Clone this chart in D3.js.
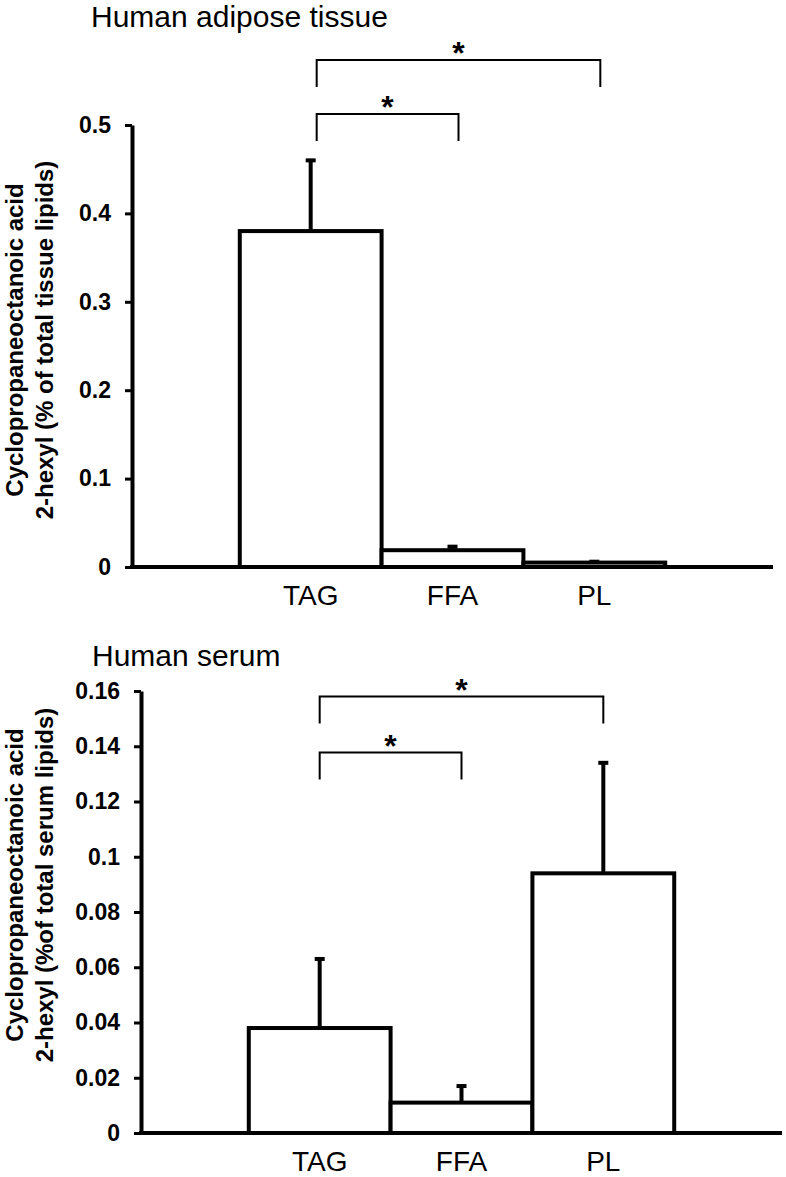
<!DOCTYPE html>
<html>
<head>
<meta charset="utf-8">
<script src="https://cdn.jsdelivr.net/npm/d3@7"></script>
<style>
  body { margin: 0; background: #fff; }
  svg { display: block; font-family: "Liberation Sans", Arial, sans-serif; }
</style>
</head>
<body>
<svg id="svg" width="786" height="1177"></svg>
<script>
// categories on the x axis (same for both panels)
const categories = ["TAG", "FFA", "PL"];

// adipose tissue: means and SD (upper error only)
const tissueMeans = [0.38, 0.019, 0.005];
const tissueErrors = [0.08, 0.004, 0.001];
const tissueTicks = [0, 0.1, 0.2, 0.3, 0.4, 0.5];
const tissueTickLabels = ["0", "0.1", "0.2", "0.3", "0.4", "0.5"];

// serum: means and SD
const serumMeans = [0.038, 0.011, 0.094];
const serumErrors = [0.025, 0.006, 0.040];
const serumTicks = [0, 0.02, 0.04, 0.06, 0.08, 0.1, 0.12, 0.14, 0.16];
const serumTickLabels = ["0", "0.02", "0.04", "0.06", "0.08", "0.1", "0.12", "0.14", "0.16"];

// significance brackets: [from, to, level in data units]
const tissueBrackets = [["TAG", "FFA", 0.5125], ["TAG", "PL", 0.5735]];
const serumBrackets = [["TAG", "FFA", 0.1377], ["TAG", "PL", 0.1580]];

const svg = d3.select("#svg");

function drawPanel(p) {
  const g = svg.append("g");

  const x = d3.scaleBand()
    .domain(categories)
    .range([p.left, p.right])
    .paddingInner(0)
    .paddingOuter(0.76);

  const y = d3.scaleLinear()
    .domain([0, p.max])
    .range([p.bottom, p.top]);

  const data = categories.map((c, i) => ({ cat: c, mean: p.means[i], err: p.errors[i] }));

  // title
  g.append("text")
    .attr("x", p.titleX)
    .attr("y", p.titleY)
    .attr("font-size", 30)
    .text(p.title);

  // axis title (two lines, rotated)
  p.yTitle.forEach((line, i) => {
    g.append("text")
      .attr("transform", "translate(" + (23 + i * 30) + "," + p.yTitleCenter + ") rotate(-90)")
      .attr("text-anchor", "middle")
      .attr("font-size", 24)
      .attr("font-weight", "bold")
      .text(line);
  });

  // error bars (drawn first so the bar outline covers the bottom)
  const eb = g.selectAll(".err")
    .data(data)
    .enter()
    .append("g");

  eb.append("line")
    .attr("x1", d => x(d.cat) + x.bandwidth() / 2)
    .attr("x2", d => x(d.cat) + x.bandwidth() / 2)
    .attr("y1", d => y(d.mean))
    .attr("y2", d => y(d.mean + d.err))
    .attr("stroke", "#000")
    .attr("stroke-width", 4);

  eb.append("rect")
    .attr("x", d => x(d.cat) + x.bandwidth() / 2 - 5)
    .attr("y", d => y(d.mean + d.err) - 2)
    .attr("width", 10)
    .attr("height", 4)
    .attr("fill", "#000");

  // bars
  g.selectAll(".bar")
    .data(data)
    .enter()
    .append("rect")
    .attr("x", d => x(d.cat))
    .attr("y", d => y(d.mean))
    .attr("width", x.bandwidth())
    .attr("height", d => y(0) - y(d.mean))
    .attr("fill", "#fff")
    .attr("stroke", "#000")
    .attr("stroke-width", 4);

  // y axis
  const yAxis = g.append("g")
    .attr("transform", "translate(" + p.left + ",0)")
    .call(d3.axisLeft(y)
      .tickValues(p.ticks)
      .tickFormat((d, i) => p.tickLabels[i])
      .tickSize(7)
      .tickSizeOuter(0)
      .tickPadding(14));
  yAxis.select(".domain").attr("stroke-width", 4);
  yAxis.selectAll(".tick line").attr("stroke-width", 3);
  yAxis.selectAll("text")
    .attr("font-size", 23)
    .attr("font-weight", "bold")
    .attr("font-family", "'Liberation Sans', Arial, sans-serif")
    .attr("fill", "#000");

  // x axis
  const xAxis = g.append("g")
    .attr("transform", "translate(0," + p.bottom + ")")
    .call(d3.axisBottom(x).tickSize(0).tickPadding(18));
  xAxis.select(".domain")
    .attr("d", "M" + (p.left - 2) + ",0H" + p.right)
    .attr("stroke-width", 4);
  xAxis.selectAll("text")
    .attr("font-size", 28)
    .attr("font-family", "'Liberation Sans', Arial, sans-serif")
    .attr("fill", "#000");

  // significance brackets
  p.brackets.forEach(b => {
    const x1 = x(b[0]) + x.bandwidth() / 2 + p.bracketShift;
    const x2 = x(b[1]) + x.bandwidth() / 2 + p.bracketShift;
    const yb = y(b[2]);
    g.append("path")
      .attr("d", "M" + x1 + "," + (yb + 27) + "V" + yb + "H" + x2 + "V" + (yb + 27))
      .attr("fill", "none")
      .attr("stroke", "#000")
      .attr("stroke-width", 2);
    g.append("text")
      .attr("x", (x1 + x2) / 2)
      .attr("y", yb + 4)
      .attr("text-anchor", "middle")
      .attr("font-size", 32)
      .attr("font-weight", "bold")
      .text("*");
  });
}

drawPanel({
  title: "Human adipose tissue", titleX: 91, titleY: 27,
  yTitle: ["Cyclopropaneoctanoic acid", "2-hexyl (% of total tissue lipids)"],
  yTitleCenter: 340,
  left: 132, right: 773, top: 125, bottom: 567, max: 0.5,
  means: tissueMeans, errors: tissueErrors,
  ticks: tissueTicks, tickLabels: tissueTickLabels,
  brackets: tissueBrackets, bracketShift: 6
});

drawPanel({
  title: "Human serum", titleX: 92, titleY: 666,
  yTitle: ["Cyclopropaneoctanoic acid", "2-hexyl (%of total serum lipids)"],
  yTitleCenter: 885,
  left: 141, right: 782, top: 691, bottom: 1133, max: 0.16,
  means: serumMeans, errors: serumErrors,
  ticks: serumTicks, tickLabels: serumTickLabels,
  brackets: serumBrackets, bracketShift: 0
});
</script>
</body>
</html>
